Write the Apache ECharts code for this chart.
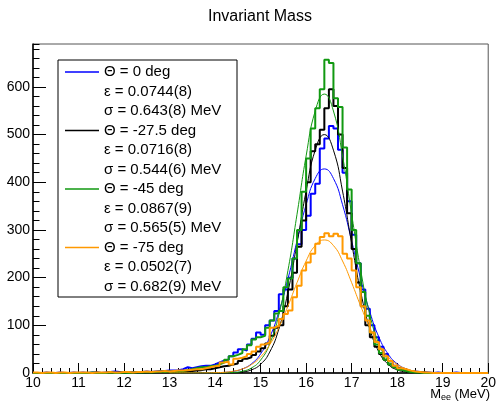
<!DOCTYPE html>
<html>
<head>
<meta charset="utf-8">
<script src="https://cdn.jsdelivr.net/npm/echarts@6/dist/echarts.min.js"></script>
<style>
html,body{margin:0;padding:0;background:#fff;}
#chart{width:499px;height:402px;}
</style>
</head>
<body>
<div id="chart"></div>
<script>
// ---- data ----
const titleText = 'Invariant Mass';
const histMin = 10, histMax = 20, binWidth = 0.1;
const xTickLabels = ['10','11','12','13','14','15','16','17','18','19','20'];
const yTickLabels = ['0','100','200','300','400','500','600'];

const blueCounts = [
0,0,1,0,0,1,0,0,1,0,
1,0,1,1,0,1,2,3,2,1,
1,2,1,2,3,2,3,4,4,5,
5,6,8,12,10,12,14,15,15,18,
22,26,28,35,43,50,47,60,72,85,
80,100,110,130,165,175,200,240,270,300,
330,376,397,471,492,518,513,468,420,360,
290,230,175,135,100,75,55,40,25,15,
10,6,4,3,2,1,1,0,1,0,
0,0,1,0,0,0,0,0,0,0];

const blackCounts = [
0,0,0,0,0,0,0,0,0,0,
0,0,0,1,0,0,1,0,1,0,
1,0,1,1,2,1,2,2,3,2,
2,3,3,4,4,5,6,8,8,10,
12,14,15,18,20,25,30,33,38,45,
52,62,78,95,100,140,175,210,265,320,
400,465,480,510,555,595,560,500,430,335,
260,190,140,100,75,55,40,28,18,12,
8,5,3,2,1,1,0,0,0,0,
0,0,0,0,0,0,0,0,0,0];

const greenCounts = [
0,0,0,0,0,0,0,0,0,0,
0,0,1,0,0,0,1,0,0,1,
0,1,1,1,2,1,2,3,2,3,
3,3,4,6,8,10,12,12,14,15,
18,22,28,35,38,42,50,58,70,75,
78,95,110,125,130,180,198,240,300,380,
450,513,555,595,657,650,576,558,473,385,
300,230,170,120,85,60,42,28,18,12,
7,4,2,1,1,0,0,0,0,0,
0,0,0,0,0,0,0,0,0,0];

const orangeCounts = [
1,0,1,1,0,1,1,0,1,1,
1,1,0,1,1,1,2,1,1,2,
2,1,2,2,3,2,3,3,4,3,
4,5,5,6,7,8,8,10,12,14,
15,22,24,18,30,32,35,40,45,55,
60,64,95,99,113,124,131,159,183,215,
232,250,271,285,293,287,292,287,250,240,
215,180,140,110,85,65,50,35,25,15,
10,8,5,3,2,1,1,0,0,0,
0,0,0,0,0,0,0,0,0,0];

const fitX = [13.0,13.2,13.4,13.6,13.8,14.0,14.2,14.4,14.6,14.8,15.0,15.2,15.4,15.6,15.8,16.0,16.2,16.4,
              16.6,16.8,17.0,17.2,17.4,17.6,17.8,18.0,18.2,18.4,18.6,18.8,19.0,19.2,19.4,19.6,19.8];
const blueFit = [0,0,0,0,0.1,0.4,1.2,3.4,8.5,19.3,40,75,128,197,277,353,408,428,408,353,277,197,128,75,40,19.3,8.5,3.4,1.2,0.4,0.1,0,0,0,0];
const blackFit = [0,0,0,0,0,0,0.1,0.6,2.1,6.6,18.3,43.9,92.3,169.6,272.2,381.6,467.3,500,467.3,381.6,272.2,169.6,92.3,43.9,18.3,6.6,2.1,0.6,0.1,0,0,0,0,0,0];
const greenFit = [0,0,0,0,0,0.1,0.3,1.1,3.7,10.6,27.1,61.3,122.2,214.7,332.9,455.3,549.5,585,549.5,455.3,332.9,214.7,122.2,61.3,27.1,10.6,3.7,1.1,0.3,0.1,0,0,0,0,0];
const orangeFit = [0,0,0,0.06,0.2,0.6,1.5,3.8,8.6,17.8,33.9,59.3,95.2,140.2,189.5,234.9,267.3,279,267.3,234.9,189.5,140.2,95.2,59.3,33.9,17.8,8.6,3.8,1.5,0.6,0.2,0.06,0,0,0];

const legendLines = [
  ['\u0398 = 0 deg', '\u03b5 = 0.0744(8)', '\u03c3 = 0.643(8) MeV'],
  ['\u0398 = -27.5 deg', '\u03b5 = 0.0716(8)', '\u03c3 = 0.544(6) MeV'],
  ['\u0398 = -45 deg', '\u03b5 = 0.0867(9)', '\u03c3 = 0.565(5) MeV'],
  ['\u0398 = -75 deg', '\u03b5 = 0.0502(7)', '\u03c3 = 0.682(9) MeV']
];
const seriesColors = ['#0000ff', '#000000', '#119911', '#ff9900'];

// ---- build ----
const FONT = '"Liberation Sans", Arial, Helvetica, sans-serif';
function histData(counts) {
  const d = [];
  for (let i = 0; i < counts.length; i++) d.push([+(histMin + i * binWidth).toFixed(2), counts[i]]);
  d.push([histMax, counts[counts.length - 1]]);
  return d;
}
function fitData(vals) { return fitX.map((x, i) => [x, vals[i]]); }

const allCounts = [blueCounts, blackCounts, greenCounts, orangeCounts];
const allFits = [blueFit, blackFit, greenFit, orangeFit];
const series = [];
for (let k = 0; k < 4; k++) {
  series.push({
    type: 'line', step: 'end', data: histData(allCounts[k]), showSymbol: false,
    xAxisIndex: 0, yAxisIndex: 0,
    lineStyle: { color: seriesColors[k], width: 2 }, silent: true
  });
  series.push({
    type: 'line', smooth: 0.5, data: fitData(allFits[k]), showSymbol: false,
    xAxisIndex: 0, yAxisIndex: 0,
    lineStyle: { color: seriesColors[k], width: 1 }, silent: true
  });
}

const graphics = [];
const boxX = 58, boxY = 60, boxW = 179, boxH = 237, rowH = 19.5;
graphics.push({ type: 'rect', shape: { x: boxX, y: boxY, width: boxW, height: boxH },
  style: { fill: '#fff', stroke: '#000', lineWidth: 1 }, z: 10 });
for (let k = 0; k < 4; k++) {
  for (let r = 0; r < 3; r++) {
    const y = boxY + 12 + (k * 3 + r) * rowH;
    if (r === 0) {
      graphics.push({ type: 'line', shape: { x1: 65, y1: y, x2: 99, y2: y },
        style: { stroke: seriesColors[k], lineWidth: 1.5 }, z: 11 });
    }
    graphics.push({ type: 'text', x: 104, y: y, z: 11,
      style: { text: legendLines[k][r], fontSize: 15, fontFamily: FONT, fill: '#000',
               verticalAlign: 'middle', align: 'left' } });
  }
}
graphics.push({ type: 'text', x: 260, y: 17, z: 11,
  style: { text: titleText, fontSize: 16, fontFamily: FONT, fill: '#000', align: 'center', verticalAlign: 'middle' } });
graphics.push({ type: 'text', x: 490, y: 394, z: 11,
  style: { text: '{a|M}{b|ee}{a| (MeV)}', align: 'right', verticalAlign: 'middle',
    rich: { a: { fontSize: 13, fontFamily: FONT, fill: '#000', lineHeight: 16 },
            b: { fontSize: 9, fontFamily: FONT, fill: '#000', lineHeight: 16, padding: [7, 0, 0, 0] } } } });

const chart = echarts.init(document.getElementById('chart'), null, { renderer: 'canvas' });
chart.setOption({
  animation: false,
  backgroundColor: '#fff',
  grid: { left: 33, right: 9, top: 44, bottom: 29, show: true, borderColor: '#555', borderWidth: 1, backgroundColor: 'transparent' },
  xAxis: [
    { type: 'value', min: histMin, max: histMax, interval: 1, position: 'bottom',
      axisLine: { onZero: false, lineStyle: { color: '#000', width: 1.5 } },
      axisTick: { inside: true, length: 10, lineStyle: { color: '#000', width: 1 } },
      axisLabel: { color: '#000', fontSize: 14, fontFamily: FONT, margin: 3,
                   formatter: (v) => xTickLabels[Math.round(v - histMin)] || '' },
      splitLine: { show: false } },
    { type: 'value', min: histMin, max: histMax, interval: 0.2, position: 'bottom',
      axisLine: { show: false, onZero: false },
      axisTick: { inside: true, length: 5, lineStyle: { color: '#000', width: 1 } },
      axisLabel: { show: false }, splitLine: { show: false } }
  ],
  yAxis: [
    { type: 'value', min: 0, max: 690, interval: 100, position: 'left',
      axisLine: { show: true, lineStyle: { color: '#000', width: 1.5 } },
      axisTick: { show: true, inside: true, length: 13, lineStyle: { color: '#000', width: 1 } },
      axisLabel: { color: '#000', fontSize: 14, fontFamily: FONT, margin: 3, showMaxLabel: false,
                   formatter: (v) => (v % 100 === 0 ? (yTickLabels[v / 100] || '') : '') },
      splitLine: { show: false } },
    { type: 'value', min: 0, max: 690, interval: 20, position: 'left',
      axisLine: { show: false },
      axisTick: { show: true, inside: true, length: 6.5, lineStyle: { color: '#000', width: 1 } },
      axisLabel: { show: false }, splitLine: { show: false } }
  ],
  series: series,
  graphic: graphics
});
</script>
</body>
</html>
